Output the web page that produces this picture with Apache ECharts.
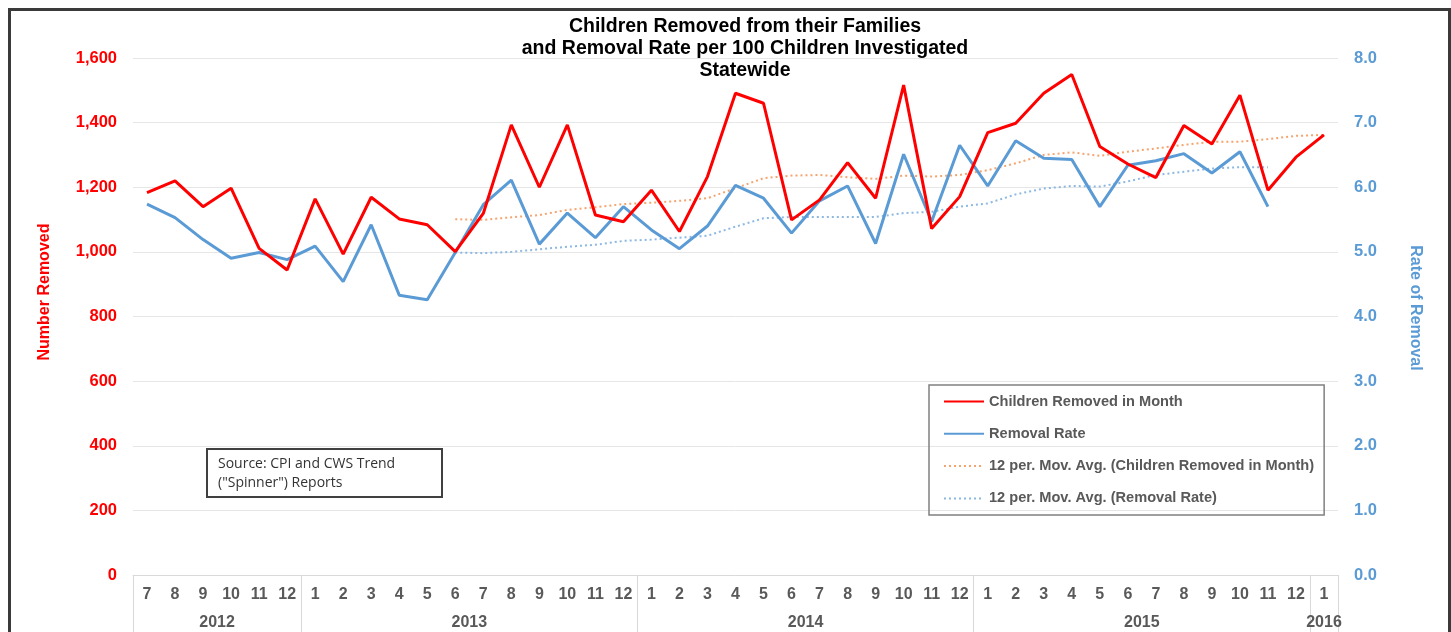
<!DOCTYPE html>
<html>
<head>
<meta charset="utf-8">
<script src="https://cdn.jsdelivr.net/npm/echarts@6/dist/echarts.min.js"></script>
<style>html,body{margin:0;padding:0;background:#fff;}#c{width:1451px;height:632px;}</style>
</head>
<body>
<div id="c"></div>
<script>
// ---- data ----
var months = ['7','8','9','10','11','12',
  '1','2','3','4','5','6','7','8','9','10','11','12',
  '1','2','3','4','5','6','7','8','9','10','11','12',
  '1','2','3','4','5','6','7','8','9','10','11','12',
  '1'];
var years = ['2012','2013','2014','2015','2016'];
var monthsPerYear = [6, 12, 12, 12, 1];

var removed = [1183,1220,1140,1197,1011,944,1164,993,1169,1102,1084,1001,
  1119,1393,1200,1393,1114,1093,1191,1063,1233,1491,1460,1099,
  1161,1276,1166,1516,1072,1171,1369,1398,1491,1549,1326,1272,
  1230,1391,1334,1485,1191,1293,1362];
var rate = [5.74,5.53,5.19,4.90,4.99,4.88,5.09,4.54,5.42,4.33,4.26,4.99,
  5.73,6.11,5.12,5.60,5.22,5.70,5.34,5.05,5.40,6.03,5.83,5.29,
  5.79,6.02,5.13,6.51,5.47,6.65,6.02,6.72,6.45,6.43,5.70,6.34,
  6.41,6.52,6.22,6.55,5.70,null,null];
var removedMA = [null,null,null,null,null,null,null,null,null,null,null,
  1101,1099,1107,1114,1130,1138,1148,1152,1158,1166,1197,1228,1236,
  1238,1231,1226,1236,1233,1238,1253,1274,1300,1308,1297,1310,
  1320,1331,1341,1341,1349,1359,1362];
var rateMA = [null,null,null,null,null,null,null,null,null,null,null,
  4.99,4.98,5.00,5.04,5.08,5.11,5.17,5.19,5.22,5.25,5.39,5.52,5.54,
  5.54,5.54,5.54,5.60,5.62,5.70,5.75,5.89,5.98,6.02,6.01,6.09,
  6.19,6.24,6.29,6.31,6.31,null,null];
var leftTicks = {min: 0, max: 1600, interval: 200};
var rightTicks = {min: 0, max: 8, interval: 1};

var names = ['Children Removed in Month', 'Removal Rate',
  '12 per. Mov. Avg. (Children Removed in Month)', '12 per. Mov. Avg. (Removal Rate)'];

// year group boundaries (category indices) and label centres
var yearStarts = [], yearCenters = {};
(function(){
  var s = 0;
  for (var k = 0; k < years.length; k++) {
    yearStarts.push(s);
    yearCenters[(s + monthsPerYear[k] / 2).toFixed(1)] = years[k];
    s += monthsPerYear[k];
  }
})();

var chart = echarts.init(document.getElementById('c'), null, {renderer: 'canvas'});
var FONT = 'Liberation Sans, Arial, sans-serif';
var option = {
  backgroundColor: '#ffffff',
  animation: false,
  textStyle: {fontFamily: FONT},
  title: {
    text: 'Children Removed from their Families\nand Removal Rate per 100 Children Investigated\nStatewide',
    left: 740, top: 11, textAlign: 'center',
    textStyle: {fontFamily: FONT, fontSize: 19.5, fontWeight: 'bold', color: '#000', lineHeight: 22}
  },
  grid: {left: 133, right: 113, top: 58, bottom: 57, containLabel: false},
  legend: {
    orient: 'vertical', left: 929, top: 385,
    data: names,
    itemWidth: 40, itemHeight: 14, itemGap: 17.3,
    padding: [9, 10, 9, 14],
    borderColor: '#808080', borderWidth: 1.5,
    itemStyle: {opacity: 0},
    textStyle: {fontFamily: FONT, fontSize: 14.6, fontWeight: 'bold', color: '#595959'}
  },
  xAxis: [{
    type: 'category', data: months, boundaryGap: true,
    axisLine: {show: true, lineStyle: {color: '#d9d9d9', width: 1}},
    axisTick: {show: true, length: 60, lineStyle: {color: '#d9d9d9'},
      interval: function (idx) { return yearStarts.indexOf(idx) >= 0; }},
    axisLabel: {interval: 0, margin: 12, fontSize: 16, fontWeight: 'bold', color: '#595959', fontFamily: FONT},
    splitLine: {show: false}
  }, {
    type: 'value', position: 'bottom', min: 0, max: months.length, interval: 0.5,
    axisLine: {show: false}, axisTick: {show: false}, splitLine: {show: false},
    axisLabel: {margin: 40, fontSize: 16, fontWeight: 'bold', color: '#595959', fontFamily: FONT,
      showMinLabel: true, showMaxLabel: true,
      formatter: function (v) { return yearCenters[v.toFixed(1)] || ''; }}
  }],
  yAxis: [{
    type: 'value', min: leftTicks.min, max: leftTicks.max, interval: leftTicks.interval,
    axisLine: {show: false}, axisTick: {show: false},
    splitLine: {show: true, lineStyle: {color: '#e6e6e6', width: 1}},
    axisLabel: {margin: 16, fontSize: 16.5, fontWeight: 'bold', color: '#ff0000', fontFamily: FONT,
      formatter: function (v) { return v.toLocaleString('en-US'); }}
  }, {
    type: 'value', min: rightTicks.min, max: rightTicks.max, interval: rightTicks.interval,
    axisLine: {show: false}, axisTick: {show: false}, splitLine: {show: false},
    axisLabel: {margin: 16, fontSize: 16.5, fontWeight: 'bold', color: '#5b9bd5', fontFamily: FONT,
      formatter: function (v) { return v.toFixed(1); }}
  }],
  series: [{
    name: names[2], type: 'line', data: removedMA, yAxisIndex: 0, symbol: 'none',
    lineStyle: {color: '#f4a46f', width: 2, type: [2, 3]}, itemStyle: {color: '#f4a46f'}, z: 2
  }, {
    name: names[3], type: 'line', data: rateMA, yAxisIndex: 1, symbol: 'none',
    lineStyle: {color: '#8cb8e2', width: 2, type: [2, 3]}, itemStyle: {color: '#8cb8e2'}, z: 2
  }, {
    name: names[1], type: 'line', data: rate, yAxisIndex: 1, symbol: 'none',
    lineStyle: {color: '#5b9bd5', width: 3}, itemStyle: {color: '#5b9bd5'}, z: 3
  }, {
    name: names[0], type: 'line', data: removed, yAxisIndex: 0, symbol: 'none',
    lineStyle: {color: '#ff0000', width: 3}, itemStyle: {color: '#ff0000'}, z: 4
  }],
  graphic: [
    {type: 'rect', left: 7, top: 7, shape: {x: 0, y: 0, width: 1440, height: 640},
      style: {fill: null, stroke: '#3a3a3a', lineWidth: 3}, silent: true, z: 10},
    {type: 'rect', shape: {x: 207, y: 449, width: 235, height: 48},
      style: {fill: '#fff', stroke: '#404040', lineWidth: 2}, z: 10},
    {type: 'text', x: 218, y: 464, style: {text: 'Source: CPI and CWS Trend', fill: '#333',
      font: '14px "Open Sans", sans-serif', textVerticalAlign: 'middle'}, z: 11},
    {type: 'text', x: 218, y: 483, style: {text: '("Spinner") Reports', fill: '#333',
      font: '14px "Open Sans", sans-serif', textVerticalAlign: 'middle'}, z: 11},
    {type: 'text', x: 45, y: 292, rotation: Math.PI / 2,
      style: {text: 'Number Removed', fill: '#ff0000', font: 'bold 16px ' + FONT,
        textAlign: 'center', textVerticalAlign: 'middle'}, z: 11},
    {type: 'text', x: 1415, y: 308, rotation: -Math.PI / 2,
      style: {text: 'Rate of Removal', fill: '#5b9bd5', font: 'bold 16px ' + FONT,
        textAlign: 'center', textVerticalAlign: 'middle'}, z: 11}
  ]
};
chart.setOption(option);
</script>
</body>
</html>
